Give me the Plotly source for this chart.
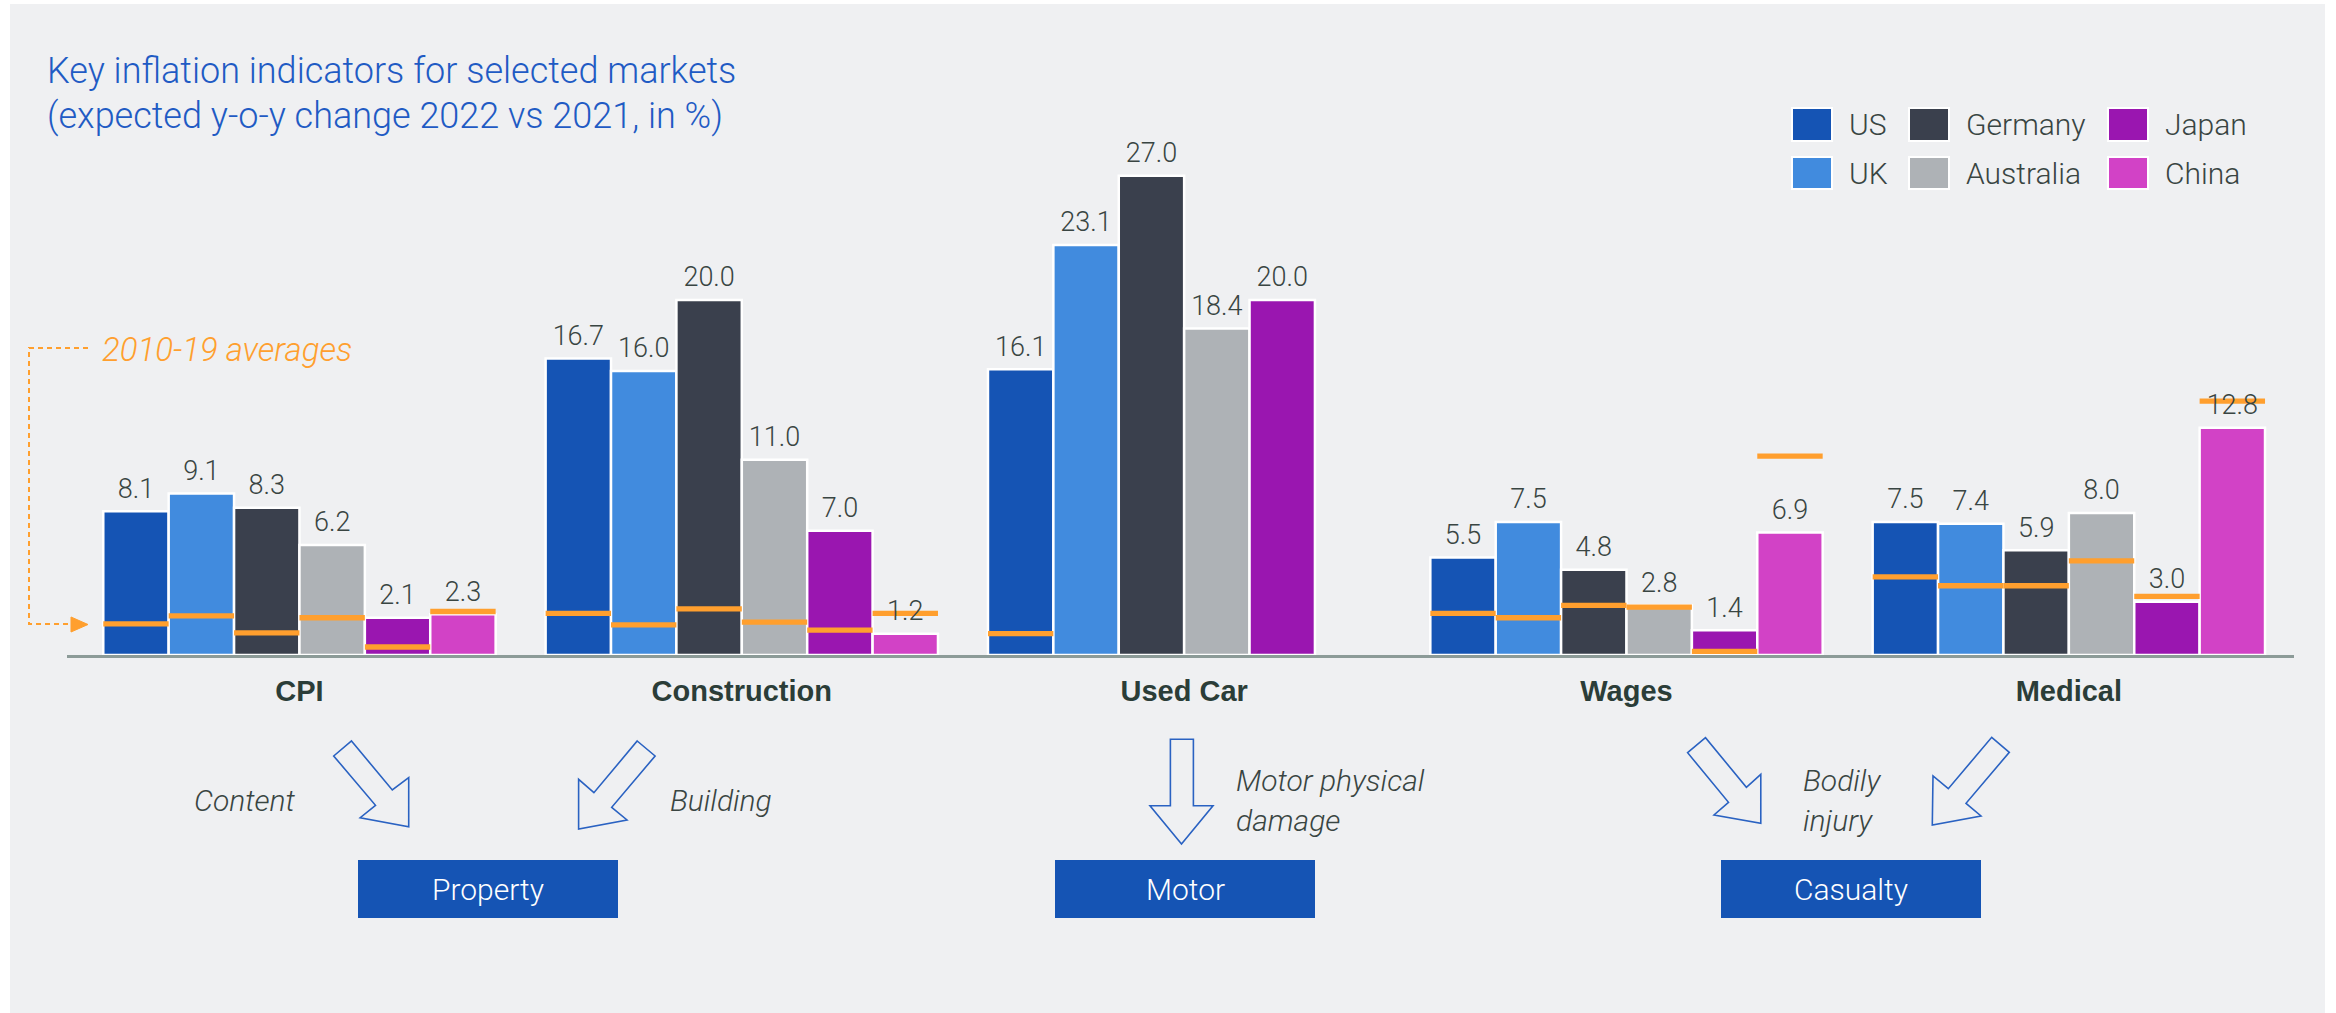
import plotly.graph_objects as go

# ---------------- data ----------------
categories = ["CPI", "Construction", "Used Car", "Wages", "Medical"]
countries = ["US", "UK", "Germany", "Australia", "Japan", "China"]
colors = ["#1554B4", "#418BDE", "#3A404D", "#AEB2B6", "#9A16B0", "#D242C6"]

us = [8.1, 16.7, 16.1, 5.5, 7.5]
uk = [9.1, 16.0, 23.1, 7.5, 7.4]
germany = [8.3, 20.0, 27.0, 4.8, 5.9]
australia = [6.2, 11.0, 18.4, 2.8, 8.0]
japan = [2.1, 7.0, 20.0, 1.4, 3.0]
china = [2.3, 1.2, None, 6.9, 12.8]

# 2010-19 averages
avg_us = [1.75, 2.35, 1.2, 2.35, 4.4]
avg_uk = [2.2, 1.7, None, 2.1, 3.9]
avg_germany = [1.25, 2.6, None, 2.8, 3.9]
avg_australia = [2.1, 1.85, None, 2.7, 5.3]
avg_japan = [0.45, 1.4, None, 0.2, 3.3]
avg_china = [2.45, 2.35, None, 11.2, 14.3]

values = [us, uk, germany, australia, japan, china]
averages = [avg_us, avg_uk, avg_germany, avg_australia, avg_japan, avg_china]

lines_of_business = ["Property", "Motor", "Casualty"]
drivers = ["Content", "Building", "Motor physical", "damage", "Bodily", "injury"]

ORANGE = "#FF9F2E"
BG = "#EFF0F2"
TXT = "#394542"
BLUE = "#1554B4"
ARROW = "#2A62C2"

# ---------------- layout geometry (pixels) ----------------
W_FIG, H_FIG = 2336, 1013
L, R, T, B = 67, 42, 100, 358
PW = W_FIG - L - R
PH = H_FIG - T - B
BOT = H_FIG - B
PX_PER_UNIT = 17.75
LABEL_PAD = 0.2  # small gap between bar top and its value label


def px(x):
    return (x - L) / PW


def py(y):
    return (BOT - y) / PH


def path(points, close=True):
    s = "M " + " L ".join(f"{px(x):.5f},{py(y):.5f}" for x, y in points)
    return s + (" Z" if close else "")


fig = go.Figure()

# main bars
for name, vals, col in zip(countries, values, colors):
    fig.add_trace(go.Bar(
        x=categories, y=vals, name=name, offsetgroup=name,
        marker=dict(color=col, line=dict(color="white", width=2.5)),
        hoverinfo="skip", showlegend=False,
    ))

# 2010-19 average markers
THICK = 0.3
for name, avg in zip(countries, averages):
    fig.add_trace(go.Bar(
        x=categories,
        y=[THICK if a is not None else None for a in avg],
        base=[a - THICK / 2 if a is not None else 0 for a in avg],
        offsetgroup=name,
        marker=dict(color=ORANGE, line=dict(width=0)),
        hoverinfo="skip", showlegend=False,
    ))

# value labels (on top of everything)
for name, vals in zip(countries, values):
    fig.add_trace(go.Bar(
        x=categories, y=[v + LABEL_PAD if v is not None else None for v in vals],
        offsetgroup=name,
        marker=dict(color="rgba(0,0,0,0)", line=dict(width=0)),
        text=[f"{v:.1f}" if v is not None else "" for v in vals],
        textposition="outside", constraintext="none", cliponaxis=False,
        textfont=dict(family="Roboto", size=27, color=TXT, weight=300),
        hoverinfo="skip", showlegend=False,
    ))

shapes = []
# background panel
shapes.append(dict(type="rect", xref="paper", yref="paper", layer="below",
                   x0=px(10), x1=px(2325), y0=py(1013), y1=py(4),
                   fillcolor=BG, line=dict(width=0)))

# legend swatches
leg_cols = [1792, 1909, 2108]
leg_rows = [(108, 141), (157, 189)]
annotations = []
for i, (name, col) in enumerate(zip(countries, colors)):
    c, r = i // 2, i % 2
    x0 = leg_cols[c]
    y0, y1 = leg_rows[r]
    shapes.append(dict(type="rect", xref="paper", yref="paper",
                       x0=px(x0), x1=px(x0 + 40), y0=py(y1), y1=py(y0),
                       fillcolor=col, line=dict(color="white", width=2)))
    annotations.append(dict(xref="paper", yref="paper", x=px(x0 + 55), y=py((y0 + y1) / 2),
                            text=name, showarrow=False, xanchor="left", yanchor="middle",
                            font=dict(family="Roboto", size=30, color=TXT, weight=300)))

# dashed connector for the averages note
shapes.append(dict(type="path", xref="paper", yref="paper",
                   path=path([(88, 348), (29, 348), (29, 624), (72, 624)], close=False),
                   line=dict(color=ORANGE, width=2, dash="5px,4px")))
shapes.append(dict(type="path", xref="paper", yref="paper",
                   path=path([(71, 617), (88, 624.5), (71, 632)]),
                   fillcolor=ORANGE, line=dict(color=ORANGE, width=1)))

# hollow arrows
arrows = [
    [(351.5, 741), (392.3, 790), (408.7, 777.7), (408.7, 826.7), (360.2, 817.7), (375.5, 805.3), (333.7, 756)],
    [(637.2, 741), (655.1, 756), (611.7, 807.3), (627, 820), (578.6, 829), (578.6, 779.3), (593.9, 792.7)],
    [(1170.4, 739.3), (1193.4, 739.3), (1193.4, 805.7), (1213, 805.7), (1181.5, 844), (1150, 805.7), (1170.4, 805.7)],
    [(1705.5, 737.7), (1687.6, 752.7), (1728.5, 802.3), (1714, 815), (1760.8, 823.3), (1760.8, 774.3), (1746.4, 787.3)],
    [(1991.7, 737.3), (2009.3, 752.3), (1966, 803.3), (1981, 816), (1932.3, 825), (1933, 776), (1948.3, 788.7)],
]
for pts in arrows:
    shapes.append(dict(type="path", xref="paper", yref="paper", path=path(pts),
                       fillcolor="rgba(0,0,0,0)", line=dict(color=ARROW, width=1.6)))

# line-of-business boxes
box_x = [358, 1055, 1721]
for lob, bx in zip(lines_of_business, box_x):
    shapes.append(dict(type="rect", xref="paper", yref="paper",
                       x0=px(bx), x1=px(bx + 260), y0=py(918), y1=py(860),
                       fillcolor=BLUE, line=dict(width=0)))
    annotations.append(dict(xref="paper", yref="paper", x=px(bx + 130), y=py(889),
                            text=lob, showarrow=False, xanchor="center", yanchor="middle",
                            font=dict(family="Roboto", size=30, color="white", weight=300)))

# title
TITLE_FONT = dict(family="Roboto", size=36, color="#1F5BC4", weight=300)
annotations.append(dict(xref="paper", yref="paper", x=px(45), y=py(71),
                        text="Key inflation indicators for selected markets",
                        showarrow=False, xanchor="left", yanchor="middle", font=TITLE_FONT))
annotations.append(dict(xref="paper", yref="paper", x=px(45), y=py(116),
                        text="(expected y-o-y change 2022 vs 2021, in %)",
                        showarrow=False, xanchor="left", yanchor="middle", font=TITLE_FONT))

# averages note
annotations.append(dict(xref="paper", yref="paper", x=px(100), y=py(349),
                        text="<i>2010-19 averages</i>", showarrow=False,
                        xanchor="left", yanchor="middle",
                        font=dict(family="Roboto", size=33, color=ORANGE, weight=300)))

# driver labels
driver_pos = [(245, 800, "center"), (721, 800, "center"), (1234, 780, "left"),
              (1234, 820, "left"), (1801, 780, "left"), (1801, 820, "left")]
for txt, (dx, dy, anc) in zip(drivers, driver_pos):
    annotations.append(dict(xref="paper", yref="paper", x=px(dx), y=py(dy),
                            text=f"<i>{txt}</i>", showarrow=False,
                            xanchor=anc, yanchor="middle",
                            font=dict(family="Roboto", size=30, color=TXT, weight=300)))

fig.update_layout(
    width=W_FIG, height=H_FIG,
    margin=dict(l=L, r=R, t=T, b=B),
    paper_bgcolor="white", plot_bgcolor="rgba(0,0,0,0)",
    barmode="group", bargap=0.113, bargroupgap=0,
    hovermode=False,
    shapes=shapes, annotations=annotations,
    xaxis=dict(
        type="category", range=[-0.5255, 4.509],
        showline=True, linecolor="#8C9B98", linewidth=3,
        showgrid=False, zeroline=False,
        ticks="outside", ticklen=8, tickcolor="rgba(0,0,0,0)",
        tickvals=categories, ticktext=[f"<b>{c}</b>" for c in categories],
        tickfont=dict(family="Liberation Sans", size=29, color="#2B3D38"),
        fixedrange=True,
    ),
    yaxis=dict(range=[0, PH / PX_PER_UNIT], visible=False, fixedrange=True),
)

fig.write_html("out.html", config={"displayModeBar": False})
